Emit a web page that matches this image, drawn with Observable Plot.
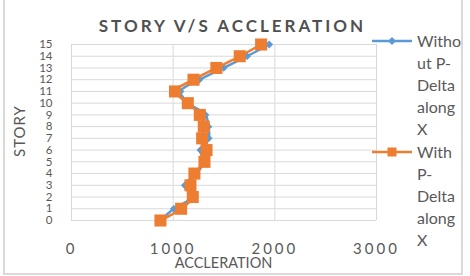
<!DOCTYPE html>
<html><head><meta charset="utf-8">
<script src="https://cdn.jsdelivr.net/npm/d3@7"></script>
<script src="https://cdn.jsdelivr.net/npm/@observablehq/plot@0.6"></script>
<style>
html,body{margin:0;padding:0;background:#fff;}
#chart{position:relative;width:470px;height:276px;overflow:hidden;font-family:Lato,"Open Sans",sans-serif;color:#595959;}
#chart svg.main{position:absolute;left:0;top:0;}
#chart svg.main g[aria-label="x-axis tick label"]{letter-spacing:3px;}
.border{position:absolute;left:3px;top:-3px;width:460px;height:278px;border:2px solid #d9d9d9;box-sizing:border-box;}
.title{position:absolute;left:0;width:465px;top:14px;text-align:center;font-weight:bold;font-size:17px;letter-spacing:3px;line-height:24px;white-space:nowrap;color:#505050;}
.xlabel{position:absolute;left:71px;width:305px;top:255px;text-align:center;font-size:14.5px;line-height:16px;}
.ylabel{position:absolute;left:19px;top:131px;transform:translate(-50%,-50%) rotate(-90deg);font-size:15px;letter-spacing:1px;line-height:18px;white-space:nowrap;}
.leg{position:absolute;left:372px;}
.leg svg{position:absolute;left:0;top:0;}
.leg .txt{position:absolute;left:45px;top:0;font-size:16px;line-height:22px;white-space:nowrap;}
</style>
</head><body>
<div id="chart"></div>
<script>
const stories = [0,1,2,3,4,5,6,7,8,9,10,11,12,13,14,15];
const withoutPDelta = [875,1006,1180,1114,1230,1300,1268,1350,1347,1318,1150,1072,1258,1497,1727,1945];
const withPDelta    = [875,1078,1193,1170,1209,1308,1328,1285,1301,1262,1144,1018,1200,1425,1655,1865];
const seriesNames = [["Witho","ut P-","Delta","along","X"],["With","P-","Delta","along","X"]];
const seriesColors = ["#5B9BD5","#ED7D31"];
const xTicks = [0,1000,2000,3000];
const titleText = "STORY V/S ACCLERATION";
const xLabel = "ACCLERATION";
const yLabel = "STORY";

const data = stories.map((s,i)=>({story:s, a:withoutPDelta[i], b:withPDelta[i]}));

const chart = document.getElementById("chart");
const plot = Plot.plot({
  width:470, height:276,
  marginLeft:71, marginRight:94, marginTop:44, marginBottom:56,
  x:{domain:[0,3000]}, y:{domain:[0,15]},
  style:{fontFamily:"Lato, 'Open Sans', sans-serif", color:"#595959", background:"transparent", overflow:"visible"},
  marks:[
    Plot.gridX(xTicks,{stroke:"#d9d9d9",strokeOpacity:1,strokeWidth:1}),
    Plot.gridY(stories,{stroke:"#d9d9d9",strokeOpacity:1,strokeWidth:1}),
    Plot.axisX(xTicks,{tickSize:0,tickPadding:23,fontSize:15,label:null,tickFormat:d3.format("d")}),
    Plot.axisY(stories,{tickSize:0,tickPadding:19,fontSize:11.5,label:null,tickFormat:d3.format("d")}),
    Plot.line(data,{x:"a",y:"story",stroke:seriesColors[0],strokeWidth:2.5,curve:"catmull-rom"}),
    Plot.dot(data,{x:"a",y:"story",symbol:"diamond2",r:3.5,fill:seriesColors[0]}),
    Plot.line(data,{x:"b",y:"story",stroke:seriesColors[1],strokeWidth:2.5,curve:"catmull-rom"}),
    Plot.dot(data,{x:"b",y:"story",symbol:"square",r:6.8,fill:seriesColors[1]})
  ]
});
plot.classList.add("main");
chart.appendChild(plot);

function addDiv(cls, text){ const d=document.createElement("div"); d.className=cls; d.textContent=text; chart.appendChild(d); return d; }
addDiv("border","");
addDiv("title", titleText);
addDiv("xlabel", xLabel);
addDiv("ylabel", yLabel);

const legTops = [30, 141];
seriesNames.forEach((lines,i)=>{
  const g = document.createElement("div");
  g.className="leg"; g.style.top = legTops[i]+"px";
  const svg = d3.create("svg").attr("width",42).attr("height",22);
  svg.append("line").attr("x1",0).attr("x2",40).attr("y1",11).attr("y2",11)
     .attr("stroke",seriesColors[i]).attr("stroke-width",2.5);
  if(i===0){
    svg.append("path").attr("d","M20,7L24,11L20,15L16,11Z").attr("fill",seriesColors[i]);
  } else {
    svg.append("rect").attr("x",15.5).attr("y",6.5).attr("width",9).attr("height",9).attr("fill",seriesColors[i]);
  }
  g.appendChild(svg.node());
  const t = document.createElement("div"); t.className="txt";
  t.innerHTML = lines.map(s=>s.replace(/&/g,"&amp;").replace(/</g,"&lt;")).join("<br>");
  g.appendChild(t);
  chart.appendChild(g);
});
</script>
</body></html>
